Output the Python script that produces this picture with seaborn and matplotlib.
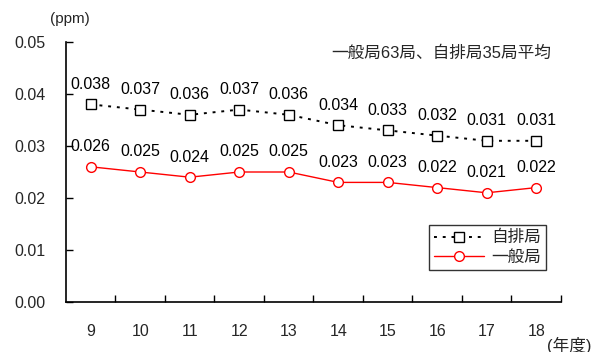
import matplotlib
matplotlib.use("Agg")
import matplotlib.pyplot as plt
import seaborn as sns
import pandas as pd
from matplotlib.ticker import FixedLocator, MultipleLocator, FormatStrFormatter

years = [9, 10, 11, 12, 13, 14, 15, 16, 17, 18]
jihai = [0.038, 0.037, 0.036, 0.037, 0.036, 0.034, 0.033, 0.032, 0.031, 0.031]
ippan = [0.026, 0.025, 0.024, 0.025, 0.025, 0.023, 0.023, 0.022, 0.021, 0.022]
series_names = ["自排局", "一般局"]

sns.set_theme(style="white")
plt.rcParams["font.family"] = ["Liberation Sans", "Noto Sans CJK JP", "DejaVu Sans"]

df = pd.DataFrame({
    "year": years * 2,
    "value": jihai + ippan,
    "局": [series_names[0]] * len(years) + [series_names[1]] * len(years),
})

fig = plt.figure(figsize=(5.92, 3.52), dpi=100)
ax = fig.add_axes([66 / 592, 1 - 302 / 352, 495 / 592, 260 / 352])

sns.lineplot(data=df[df["局"] == series_names[0]], x="year", y="value", ax=ax,
             color="black", linestyle=(0, (1.5, 3)), linewidth=1.4,
             marker="s", markersize=6.8, markerfacecolor="white",
             markeredgecolor="black", markeredgewidth=1.0,
             label=series_names[0])
sns.lineplot(data=df[df["局"] == series_names[1]], x="year", y="value", ax=ax,
             color="red", linewidth=1.0,
             marker="o", markersize=7, markerfacecolor="white",
             markeredgecolor="red", markeredgewidth=1.0,
             label=series_names[1])

for x, v in zip(years, jihai):
    ax.annotate(f"{v:.3f}", (x, v), xytext=(0, 14.5), textcoords="offset points",
                ha="center", va="center", fontsize=11.5, color="black")
for x, v in zip(years, ippan):
    ax.annotate(f"{v:.3f}", (x, v), xytext=(0, 14.5), textcoords="offset points",
                ha="center", va="center", fontsize=11.5, color="black")

ax.set_xlim(years[0] - 0.5, years[-1] + 0.5)
ax.set_ylim(0, 0.05)
ax.yaxis.set_major_locator(MultipleLocator(0.01))
ax.yaxis.set_major_formatter(FormatStrFormatter("%.2f"))
ax.xaxis.set_major_locator(FixedLocator(years))
ax.xaxis.set_minor_locator(FixedLocator([y + 0.5 for y in years]))
ax.tick_params(axis="x", which="major", length=0, pad=16, labelsize=11.5)
ax.tick_params(axis="x", which="minor", direction="in", length=5, width=1, color="black", bottom=True)
ax.tick_params(axis="y", which="major", direction="in", length=5, width=1, color="black",
               left=True, pad=15, labelsize=11.5)
ax.set_xlabel("")
ax.set_ylabel("")

for side in ["top", "right"]:
    ax.spines[side].set_visible(False)
for side in ["left", "bottom"]:
    ax.spines[side].set_color("black")
    ax.spines[side].set_linewidth(1.2)

leg = ax.legend(loc="upper left", bbox_to_anchor=(0.733, 0.296), fontsize=12,
                frameon=True, fancybox=False, edgecolor="black", handlelength=3.0,
                borderpad=0.3, labelspacing=0.25, handletextpad=0.45,
                borderaxespad=0)
leg.get_frame().set_linewidth(1.0)

ax.text(0.98, 0.955, "一般局63局、自排局35局平均", transform=ax.transAxes,
        ha="right", va="center", fontsize=12)
fig.text(70 / 592, 1 - 19 / 352, "(ppm)", ha="center", va="center", fontsize=11)
fig.text(569 / 592, 1 - 345 / 352, "(年度)", ha="center", va="center", fontsize=12)

fig.savefig("out.png", dpi=100)
